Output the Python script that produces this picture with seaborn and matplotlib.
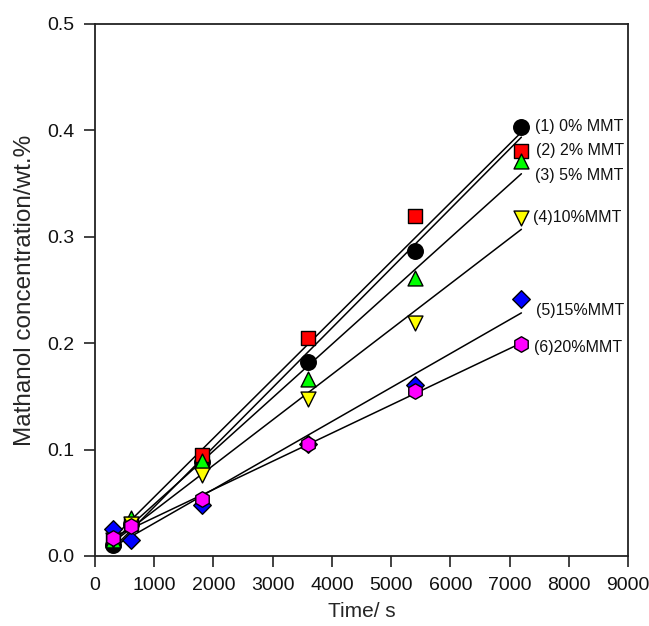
import numpy as np
import pandas as pd
import matplotlib
matplotlib.use("Agg")
import matplotlib.pyplot as plt
import seaborn as sns

# ---- data ----
time_s = [300, 600, 1800, 3600, 5400, 7200]
mmt_0 = [0.010, 0.030, 0.088, 0.182, 0.287, 0.403]
mmt_2 = [0.015, 0.030, 0.095, 0.205, 0.320, 0.381]
mmt_5 = [0.015, 0.036, 0.089, 0.166, 0.261, 0.371]
mmt_10 = [0.015, 0.030, 0.076, 0.148, 0.219, 0.318]
mmt_15 = [0.025, 0.015, 0.048, 0.105, 0.161, 0.242]
mmt_20 = [0.017, 0.028, 0.054, 0.105, 0.155, 0.199]

labels = ["(1) 0% MMT", "(2) 2% MMT", "(3) 5% MMT",
          "(4)10%MMT", "(5)15%MMT", "(6)20%MMT"]
series = [mmt_0, mmt_2, mmt_5, mmt_10, mmt_15, mmt_20]
colors = ["#000000", "#ff0000", "#00ff00", "#ffff00", "#0000ff", "#ff00ff"]
markers = ["o", "s", "^", "v", "D", "h"]
msizes = [125, 110, 115, 115, 80, 125]
label_pos = [(7430, 0.404), (7450, 0.381), (7430, 0.358),
             (7400, 0.3186), (7440, 0.2305), (7420, 0.1964)]

x_ticks = list(range(0, 9001, 1000))
y_ticks = [0.0, 0.1, 0.2, 0.3, 0.4, 0.5]

sns.set_style("ticks")
plt.rcParams["font.family"] = ["Liberation Sans", "DejaVu Sans"]

fig = plt.figure(figsize=(6.49, 6.26), dpi=100)
ax = fig.add_axes([95 / 649, 1 - 556 / 626, (628 - 95) / 649, (556 - 24) / 626])

for i, (vals, lab) in enumerate(zip(series, labels)):
    df = pd.DataFrame({"t": time_s, "c": vals})
    sns.regplot(data=df, x="t", y="c", ax=ax, ci=None, truncate=True,
                marker=markers[i],
                scatter_kws=dict(s=msizes[i], color=colors[i], edgecolor="black",
                                 linewidths=1.0, zorder=10 + i, alpha=1),
                line_kws=dict(color="black", lw=1.1, zorder=2))
    ax.text(label_pos[i][0], label_pos[i][1], lab, fontsize=11.5,
            ha="left", va="center", color="#111111")

ax.set_xlim(0, 9000)
ax.set_ylim(0, 0.5)
ax.set_xticks(x_ticks)
ax.set_yticks(y_ticks)
ax.set_xticklabels([str(v) for v in x_ticks], fontsize=14)
ax.set_yticklabels([f"{v:.1f}" for v in y_ticks], fontsize=14)
ax.set_xlabel("Time/ s", fontsize=15, labelpad=6)
ax.set_ylabel("Mathanol concentration/wt.%", fontsize=17.5, labelpad=8)
ax.tick_params(axis="both", direction="out", length=8, width=1.2,
               pad=7, color="#222222", labelcolor="#111111")
for s in ax.spines.values():
    s.set_visible(True)
    s.set_linewidth(1.3)
    s.set_color("#222222")

fig.savefig("out.png", dpi=100, facecolor="white")
